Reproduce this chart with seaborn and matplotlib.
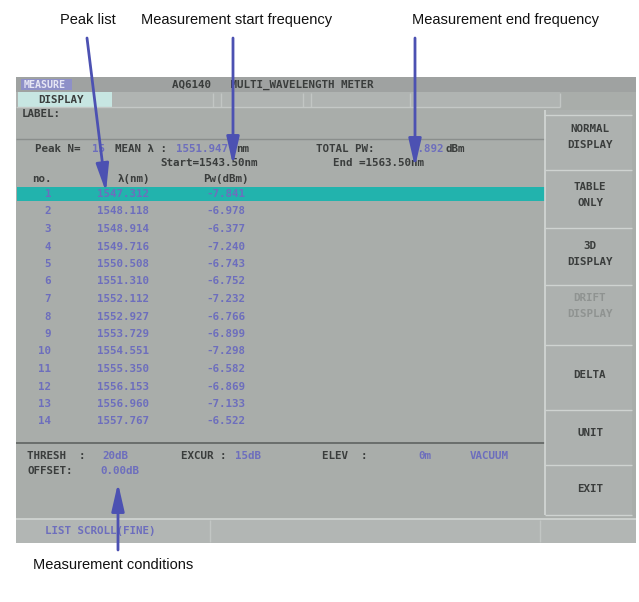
import matplotlib
matplotlib.use("Agg")
import matplotlib.pyplot as plt
import matplotlib.patches as mpatches
import seaborn as sns

peak_no = [1, 2, 3, 4, 5, 6, 7, 8, 9, 10, 11, 12, 13, 14]
wavelength_nm = [1547.312, 1548.118, 1548.914, 1549.716, 1550.508, 1551.310, 1552.112,
                 1552.927, 1553.729, 1554.551, 1555.350, 1556.153, 1556.960, 1557.767]
power_dbm = [-7.841, -6.978, -6.377, -7.240, -6.743, -6.752, -7.232,
             -6.766, -6.899, -7.298, -6.582, -6.869, -7.133, -6.522]
softkeys = ["NORMAL\nDISPLAY", "TABLE\nONLY", "3D\nDISPLAY", "DRIFT\nDISPLAY", "DELTA", "UNIT", "EXIT"]
annotations = ["Peak list", "Measurement start frequency", "Measurement end frequency",
               "Measurement conditions"]
peak_count = 15
mean_wl = "1551.947"
total_pw = "4.892"
start_wl = "1543.50"
end_wl = "1563.50"

sns.set_theme(style="white")
plt.rcParams['font.family'] = ['DejaVu Sans']

W, H = 639, 602
fig = plt.figure(figsize=(W / 100, H / 100), dpi=100)
ax = fig.add_axes([0, 0, 1, 1])
ax.set_xlim(0, W)
ax.set_ylim(H, 0)
ax.axis("off")

BG = "#a9adaa"
DARK = "#3a3d3c"
BLUE = "#6d6ebd"
CYAN = "#22b3ad"
ARROW = "#4c51b2"
MONO = dict(family="DejaVu Sans Mono", fontweight="bold", fontsize=7.8)

def rect(x0, y0, x1, y1, fc, ec="none", lw=0, z=1):
    ax.add_patch(mpatches.Rectangle((x0, y0), x1 - x0, y1 - y0, fc=fc, ec=ec, lw=lw, zorder=z))

def hline(y, x0, x1, c="#7f8381", lw=1.0, z=2):
    ax.plot([x0, x1], [y, y], color=c, lw=lw, zorder=z, solid_capstyle="butt")

def vline(x, y0, y1, c="#c2c6c4", lw=1.0, z=2):
    ax.plot([x, x], [y0, y1], color=c, lw=lw, zorder=z, solid_capstyle="butt")

def stext(x, y, s, c=DARK, ha="left", **kw):
    d = dict(MONO)
    d.update(kw)
    ax.text(x, y, s, color=c, ha=ha, va="center", zorder=5, **d)

# screen background
rect(16, 77, 636, 543, BG)
# title bar
rect(16, 77, 636, 92, "#9fa2a1")
rect(21, 79, 72, 90, "#8e90c8")
stext(24, 84.5, "MEASURE", c="#e6e6f4", fontsize=7.2)
stext(172, 85, "AQ6140   MULTI_WAVELENGTH METER")
# tab row
rect(16, 92, 560, 107, "#b0b4b2")
rect(18, 92, 112, 107, "#c7e6e2")
stext(38, 100, "DISPLAY")
for xv in [213, 221, 303, 311, 410, 560]:
    vline(xv, 93, 107)
hline(107, 16, 560, c="#c4c8c6")
# label
stext(22, 114, "LABEL:")
hline(139, 16, 545, c="#8a8e8c")

# header info
stext(35, 149, "Peak N=")
stext(92, 149, f"{peak_count}", c=BLUE)
stext(115, 149, "MEAN \u03bb :")
stext(176, 149, mean_wl, c=BLUE)
stext(236, 149, "nm")
stext(316, 149, "TOTAL PW:")
stext(412, 149, total_pw, c=BLUE)
stext(446, 149, "dBm")
stext(160, 163, f"Start={start_wl}nm")
stext(333, 163, f"End ={end_wl}nm")
stext(32, 179, "no.")
stext(118, 179, "\u03bb(nm)")
stext(203, 179, "Pw(dBm)")

# peak table
y0, dy = 194.0, 17.5
for i, (n, wl, pw) in enumerate(zip(peak_no, wavelength_nm, power_dbm)):
    y = y0 + i * dy
    if i == 0:
        rect(17, y - 7, 545, y + 7, CYAN, z=2)
    stext(51, y, f"{n}", c=BLUE, ha="right")
    stext(97, y, f"{wl:.3f}", c=BLUE)
    stext(206, y, f"{pw:.3f}", c=BLUE)

# conditions
hline(443, 16, 545, c="#5f6361", lw=1.2)
stext(27, 456, "THRESH  :")
stext(102, 456, "20dB", c=BLUE)
stext(181, 456, "EXCUR :")
stext(235, 456, "15dB", c=BLUE)
stext(322, 456, "ELEV  :")
stext(418, 456, "0m", c=BLUE)
stext(470, 456, "VACUUM", c=BLUE)
stext(27, 471, "OFFSET:")
stext(100, 471, "0.00dB", c=BLUE)

# status bar
rect(16, 519, 636, 543, "#b2b6b4")
hline(519, 16, 636, c="#d2d6d4", lw=1.2)
vline(210, 520, 542)
vline(540, 520, 542)
stext(45, 530.5, "LIST SCROLL(FINE)", c=BLUE)

# soft key panel
rect(545, 110, 632, 515, "#adb1af")
vline(545, 110, 515, c="#d4d8d6", lw=1.2)
bounds = [115, 170, 228, 285, 345, 410, 465, 515]
for b in bounds:
    hline(b, 545, 632, c="#cfd3d1", lw=1.0)
ky = [137, 195, 254, 306, 375, 433, 489]
for k, (s, yk) in enumerate(zip(softkeys, ky)):
    col = "#8f9391" if k == 3 else DARK
    stext(590, yk, s, c=col, ha="center", linespacing=1.8)

# annotations
AF = dict(family="Liberation Sans", fontsize=10.5, color="#111111")
ax.text(88, 20, annotations[0], ha="center", va="center", **AF)
ax.text(237, 20, annotations[1], ha="center", va="center", **AF)
ax.text(505, 20, annotations[2], ha="center", va="center", **AF)
ax.text(113, 565, annotations[3], ha="center", va="center", **AF)

def arrow(x0, y0, x1, y1):
    ax.annotate("", xy=(x1, y1), xytext=(x0, y0), zorder=8,
                arrowprops=dict(arrowstyle="-|>,head_length=1.4,head_width=0.32",
                                color=ARROW, lw=2.0, shrinkA=0, shrinkB=0))

arrow(87, 38, 106, 192)
arrow(233, 38, 233, 165)
arrow(415, 38, 415, 167)
arrow(118, 550, 118, 483)

fig.savefig("out.png", dpi=100)
